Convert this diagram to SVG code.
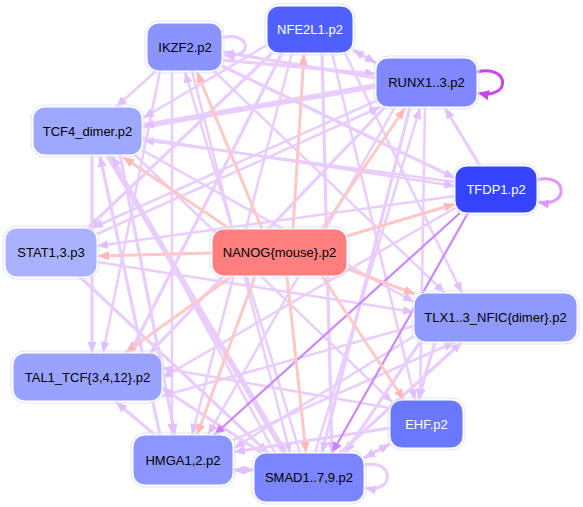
<svg xmlns="http://www.w3.org/2000/svg" width="583" height="507" viewBox="0 0 583 507">
<style>
.e{fill:none;stroke:#e9cdff;stroke-width:3.2;marker-end:url(#ma)}
.n{stroke-width:2.5}
.t{stroke-width:5.5}
.b{marker-start:url(#mas)}
.p{fill:none;stroke:#ffc8c8;stroke-width:3;marker-end:url(#mp)}
.d{fill:none;stroke:#cc88ff;stroke-width:2.2;marker-end:url(#md)}
.nb{stroke:#ffffff;stroke-width:1}
.ring{fill:none;stroke:#dfe3ff;stroke-width:1}
text{font-family:"Liberation Sans",Arial,sans-serif;font-size:13px;text-anchor:middle}
.w{fill:#ffffff}
.k{fill:#000000}
</style>
<defs>
<marker id="ma" markerUnits="userSpaceOnUse" markerWidth="12" markerHeight="9" refX="11" refY="4.5" orient="auto"><path d="M0,0 L11,4.5 L0,9 z" fill="#e2bfff"/></marker>
<marker id="mas" markerUnits="userSpaceOnUse" markerWidth="12" markerHeight="9" refX="0" refY="4.5" orient="auto"><path d="M11,0 L0,4.5 L11,9 z" fill="#e2bfff"/></marker>
<marker id="mp" markerUnits="userSpaceOnUse" markerWidth="12" markerHeight="9" refX="11" refY="4.5" orient="auto"><path d="M0,0 L11,4.5 L0,9 z" fill="#ffb8b8"/></marker>
<marker id="md" markerUnits="userSpaceOnUse" markerWidth="12" markerHeight="9" refX="11" refY="4.5" orient="auto"><path d="M0,0 L11,4.5 L0,9 z" fill="#cc80ff"/></marker>
<marker id="mr" markerUnits="userSpaceOnUse" markerWidth="12" markerHeight="10" refX="11" refY="5" orient="auto"><path d="M0,0 L11,5 L0,10 z" fill="#cc44ee"/></marker>
<marker id="mt" markerUnits="userSpaceOnUse" markerWidth="12" markerHeight="9" refX="11" refY="4.5" orient="auto"><path d="M0,0 L11,4.5 L0,9 z" fill="#dd99ff"/></marker>
</defs>
<g id="connectors">
<path class="e n" d="M156,71 L116,107"/>
<path class="e" d="M222,60 L376,74"/>
<path class="e n" d="M160,71 L103,353"/>
<path class="e n" d="M172,71 L172,435"/>
<path class="e n" d="M192,71 L290,453"/>
<path class="e" d="M222,66 L455,178"/>
<path class="e n" d="M214,71 L445,293"/>
<path class="e b" d="M353,50 L376,63"/>
<path class="e n" d="M267,45 L143,118"/>
<path class="e" d="M272,53 L88,228"/>
<path class="e" d="M282,53 L130,353"/>
<path class="e n" d="M292,53 L192,435"/>
<path class="e" d="M322,53 L332,453"/>
<path class="e n" d="M332,53 L415,400"/>
<path class="e n" d="M345,53 L462,293"/>
<path class="e" d="M376,78 L223,52"/>
<path class="e t" d="M376,86 L143,126"/>
<path class="e n" d="M378,100 L92,228"/>
<path class="e" d="M385,107 L150,353"/>
<path class="e n" d="M395,107 L208,435"/>
<path class="e" d="M410,107 L322,453"/>
<path class="e n" d="M425,107 L420,400"/>
<path class="e" d="M480,166 L445,108"/>
<path class="e n" d="M455,208 L162,378"/>
<path class="e n" d="M455,182 L143,140"/>
<path class="e n" d="M455,196 L97,246"/>
<path class="e n" d="M142,138 L455,186"/>
<path class="e n" d="M142,150 L414,302"/>
<path class="e t" d="M108,155 L285,453"/>
<path class="e" d="M92,155 L92,353"/>
<path class="e" d="M120,155 L175,435"/>
<path class="e n" d="M135,155 L392,402"/>
<path class="e n" d="M97,234 L380,107"/>
<path class="e" d="M80,277 L268,453"/>
<path class="e n" d="M97,262 L414,312"/>
<path class="e" d="M435,342 L418,400"/>
<path class="e" d="M420,342 L345,453"/>
<path class="e n" d="M414,336 L234,448"/>
<path class="e n" d="M414,326 L162,396"/>
<path class="e b" d="M390,444 L364,458"/>
<path class="e" d="M390,428 L234,452"/>
<path class="e n" d="M390,408 L162,368"/>
<path class="e" d="M155,435 L116,402"/>
<path class="e b" d="M233,470 L254,470"/>
<path class="e n" d="M233,440 L455,342"/>
<path class="e" d="M160,435 L100,156"/>
<path class="e" d="M262,453 L162,388"/>
<path class="e n" d="M275,453 L112,156"/>
<path class="e" d="M340,453 L462,342"/>
<path class="e n" d="M315,453 L420,108"/>
<path class="e n" d="M300,453 L185,72"/>
<path class="d" d="M460,213 L214,435"/>
<path class="d" d="M468,213 L332,453"/>
<path class="e" d="M221,38 C252,30 254,60 224,55"/>
<path d="M477,72 C510,64 512,100 478,93" fill="none" stroke="#cc44ee" stroke-width="3" marker-end="url(#mr)"/>
<path d="M537,180 C568,172 570,208 538,202" fill="none" stroke="#dd99ff" stroke-width="3" marker-end="url(#mt)"/>
<path class="e" d="M364,465 C394,458 396,494 365,488"/>
<path class="p" d="M262,229 L197,72"/>
<path class="p" d="M293,229 L304,54"/>
<path class="p" d="M322,229 L405,108"/>
<path class="p" d="M347,236 L455,204"/>
<path class="p" d="M345,268 L415,294"/>
<path class="p" d="M322,276 L404,400"/>
<path class="p" d="M287,276 L306,453"/>
<path class="p" d="M255,276 L197,435"/>
<path class="p" d="M232,276 L125,353"/>
<path class="p" d="M212,253 L98,256"/>
<path class="p" d="M230,229 L123,157"/>
</g>
<g id="IKZF2"><rect class="ring" x="145" y="21" width="79" height="52" rx="14"/><rect class="nb" x="147" y="23" width="75" height="48" rx="12" fill="#8a94ff"/><text class="k" x="185" y="51.5">IKZF2.p2</text></g>
<g id="NFE2L1"><rect class="ring" x="265" y="4" width="90" height="51" rx="14"/><rect class="nb" x="267" y="6" width="86" height="47" rx="12" fill="#5060ff"/><text class="w" x="310" y="34">NFE2L1.p2</text></g>
<g id="RUNX1"><rect class="ring" x="374" y="56" width="105" height="53" rx="14"/><rect class="nb" x="376" y="58" width="101" height="49" rx="12" fill="#8088ff"/><text class="k" x="426.5" y="87">RUNX1..3.p2</text></g>
<g id="TFDP1"><rect class="ring" x="453" y="164" width="86" height="51" rx="14"/><rect class="nb" x="455" y="166" width="82" height="47" rx="12" fill="#3444ff"/><text class="w" x="496" y="194">TFDP1.p2</text></g>
<g id="TCF4"><rect class="ring" x="31" y="105" width="113" height="52" rx="14"/><rect class="nb" x="33" y="107" width="109" height="48" rx="12" fill="#9ea8ff"/><text class="k" x="87.5" y="135.5">TCF4_dimer.p2</text></g>
<g id="STAT1"><rect class="ring" x="3" y="226" width="96" height="53" rx="14"/><rect class="nb" x="5" y="228" width="92" height="49" rx="12" fill="#aab2ff"/><text class="k" x="51" y="257">STAT1,3.p3</text></g>
<g id="NANOG"><rect class="ring" x="210" y="227" width="139" height="51" rx="14" stroke="#ffe0e0"/><rect class="nb" x="212" y="229" width="135" height="47" rx="12" fill="#ff7f7f"/><text class="k" x="279.5" y="257">NANOG{mouse}.p2</text></g>
<g id="TLX1"><rect class="ring" x="412" y="291" width="167" height="53" rx="14"/><rect class="nb" x="414" y="293" width="163" height="49" rx="12" fill="#8f9aff"/><text class="k" x="495.5" y="322">TLX1..3_NFIC{dimer}.p2</text></g>
<g id="EHF"><rect class="ring" x="388" y="398" width="77" height="52" rx="14"/><rect class="nb" x="390" y="400" width="73" height="48" rx="12" fill="#6a78ff"/><text class="w" x="426.5" y="428.5">EHF.p2</text></g>
<g id="TAL1"><rect class="ring" x="11" y="351" width="153" height="52" rx="14"/><rect class="nb" x="13" y="353" width="149" height="48" rx="12" fill="#99a3ff"/><text class="k" x="87.5" y="381.5">TAL1_TCF{3,4,12}.p2</text></g>
<g id="HMGA1"><rect class="ring" x="131" y="433" width="104" height="54" rx="14"/><rect class="nb" x="133" y="435" width="100" height="50" rx="12" fill="#8b97ff"/><text class="k" x="183" y="464.5">HMGA1,2.p2</text></g>
<g id="SMAD"><rect class="ring" x="252" y="451" width="114" height="53" rx="14"/><rect class="nb" x="254" y="453" width="110" height="49" rx="12" fill="#7a85ff"/><text class="k" x="309" y="482">SMAD1..7,9.p2</text></g>
</svg>
